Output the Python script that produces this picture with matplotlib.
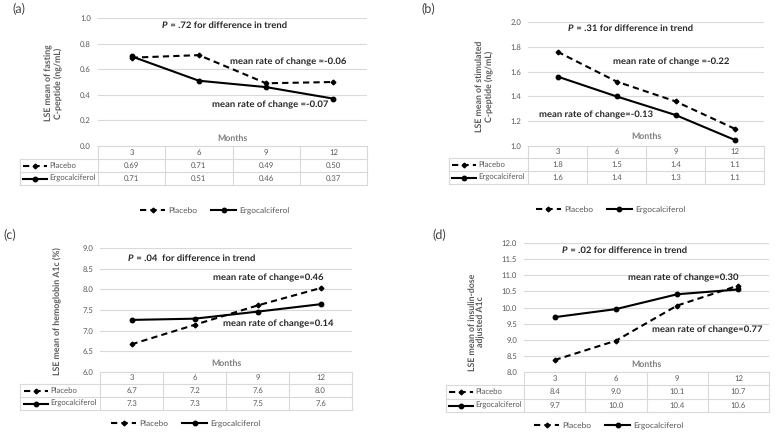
import matplotlib
matplotlib.use('Agg')
import matplotlib.pyplot as plt
from matplotlib.lines import Line2D
from matplotlib.transforms import Affine2D
import numpy as np

plt.rcParams['font.family'] = ['Lato', 'DejaVu Sans']
plt.rcParams['text.hinting'] = 'no_hinting'

W, H = 782, 432
fig = plt.figure(figsize=(W / 100, H / 100), dpi=100)
PIX = Affine2D().scale(1 / W, -1 / H).translate(0, 1) + fig.transFigure

# ---------------- data ----------------
months = ['3', '6', '9', '12']
groups = ['Placebo', 'Ergocalciferol']

a_placebo = [0.69, 0.71, 0.49, 0.50]
a_ergo = [0.70, 0.51, 0.46, 0.37]
a_placebo_tbl = ['0.69', '0.71', '0.49', '0.50']
a_ergo_tbl = ['0.71', '0.51', '0.46', '0.37']

b_placebo = [1.76, 1.52, 1.36, 1.14]
b_ergo = [1.56, 1.40, 1.25, 1.05]
b_placebo_tbl = ['1.8', '1.5', '1.4', '1.1']
b_ergo_tbl = ['1.6', '1.4', '1.3', '1.1']

c_placebo = [6.67, 7.14, 7.61, 8.03]
c_ergo = [7.26, 7.29, 7.46, 7.64]
c_placebo_tbl = ['6.7', '7.2', '7.6', '8.0']
c_ergo_tbl = ['7.3', '7.3', '7.5', '7.6']

d_placebo = [8.37, 8.97, 10.06, 10.68]
d_ergo = [9.70, 9.95, 10.41, 10.56]
d_placebo_tbl = ['8.4', '9.0', '10.1', '10.7']
d_ergo_tbl = ['9.7', '10.0', '10.4', '10.6']

GRAY = '#d9d9d9'
TXT = '#595959'
DARK = '#262626'
SMALL = 5.6

panels = [
    dict(tag='(a)', tagpos=(12.5, 8), plot=(98, 18, 367, 146), ylim=(0.0, 1.0), step=0.2,
         placebo=a_placebo, ergo=a_ergo, ptbl=a_placebo_tbl, etbl=a_ergo_tbl,
         ylabel='LSE mean of fasting\nC-peptide (ng/mL)', ylpos=(53.5, 83),
         ptext=' = .72 for difference in trend', ppos=(162, 25),
         notes=[('mean rate of change =-0.06', 230, 62), ('mean rate of change =-0.07', 212, 105)],
         months_y=138, rows=[146, 159, 172, 185], tleft=20, key=(23, 47, 49),
         leg=(215, 211)),
    dict(tag='(b)', tagpos=(421, 8), plot=(528, 22, 764, 146), ylim=(1.0, 2.0), step=0.2,
         placebo=b_placebo, ergo=b_ergo, ptbl=b_placebo_tbl, etbl=b_ergo_tbl,
         ylabel='LSE mean of stimulated\nC-peptide (ng/mL)', ylpos=(484.5, 86),
         ptext=' = .31 for difference in trend', ppos=(568, 28),
         notes=[('mean rate of change =-0.22', 613, 62), ('mean rate of change=-0.13', 539, 115)],
         months_y=136, rows=[146, 158, 171, 184], tleft=449, key=(452, 476, 478),
         leg=(610.5, 210)),
    dict(tag='(c)', tagpos=(3, 234), plot=(100, 248, 352, 372), ylim=(6.0, 9.0), step=0.5,
         placebo=c_placebo, ergo=c_ergo, ptbl=c_placebo_tbl, etbl=c_ergo_tbl,
         ylabel='LSE mean of hemoglobin A1c (%)', ylpos=(57, 311),
         ptext=' = .04  for difference in trend', ppos=(128, 258),
         notes=[('mean rate of change=0.46', 213, 278), ('mean rate of change=0.14', 223, 324)],
         months_y=363, rows=[372, 384, 397, 410], tleft=20, key=(24, 48, 50),
         leg=(186, 424)),
    dict(tag='(d)', tagpos=(432, 234), plot=(524, 243, 769, 372), ylim=(8.0, 12.0), step=0.5,
         placebo=d_placebo, ergo=d_ergo, ptbl=d_placebo_tbl, etbl=d_ergo_tbl,
         ylabel='LSE mean of insulin-dose\nadjusted A1c', ylpos=(476.5, 322),
         ptext=' = .02 for difference in trend', ppos=(562, 250),
         notes=[('mean rate of change=0.30', 628, 278), ('mean rate of change=0.77', 652, 330)],
         months_y=364, rows=[372, 385, 399, 412], tleft=446, key=(449, 473, 475),
         leg=(609, 426)),
]

LW = 1.5
PL_STYLE = dict(color='black', lw=LW, ls=(0, (3, 2)), marker='D', ms=2.4)
ER_STYLE = dict(color='black', lw=LW, ls='-', marker='o', ms=3.2)


def hline(x0, x1, y):
    fig.add_artist(Line2D([x0, x1], [y, y], transform=PIX, color=GRAY, lw=0.8))


def vline(x, y0, y1):
    fig.add_artist(Line2D([x, x], [y0, y1], transform=PIX, color=GRAY, lw=0.8))


for p in panels:
    L, T, R, B = p['plot']
    ax = fig.add_axes([L / W, 1 - B / H, (R - L) / W, (B - T) / H])
    x = np.arange(len(months))
    ax.plot(x, p['placebo'], label=groups[0], **PL_STYLE)
    ax.plot(x, p['ergo'], label=groups[1], **ER_STYLE)
    ax.set_xlim(-0.5, len(months) - 0.5)
    y0, y1 = p['ylim']
    ax.set_ylim(y0, y1)
    ticks = np.round(np.arange(y0, y1 + 1e-9, p['step']), 2)
    ax.set_yticks(ticks)
    ax.set_yticklabels([f'{t:.1f}' for t in ticks])
    ax.set_xticks([])
    ax.yaxis.grid(True, color=GRAY, lw=0.8)
    ax.set_axisbelow(True)
    for s in ax.spines.values():
        s.set_visible(False)
    ax.tick_params(axis='y', length=0, labelsize=SMALL, labelcolor=TXT, pad=5)

    # panel tag
    fig.text(p['tagpos'][0] / W, 1 - p['tagpos'][1] / H, p['tag'], fontsize=9,
             color='#404040', ha='left', va='center')
    # y label
    fig.text(p['ylpos'][0] / W, 1 - p['ylpos'][1] / H, p['ylabel'], rotation=90,
             ha='center', va='center', multialignment='center', fontsize=6.3,
             fontweight='bold', color=TXT, linespacing=1.1)
    # P text: italic P followed by the rest
    pt = fig.text(p['ppos'][0] / W, 1 - p['ppos'][1] / H, 'P', fontsize=6.8,
                  fontweight='bold', fontstyle='italic', color=DARK,
                  ha='left', va='center')
    fig.add_artist(matplotlib.text.Annotation(
        p['ptext'], xy=(1, 0), xycoords=pt, ha='left', va='bottom',
        fontsize=6.8, fontweight='bold', color=DARK))
    for txt, nx, ny in p['notes']:
        fig.text(nx / W, 1 - ny / H, txt, fontsize=6.8, fontweight='bold',
                 color=DARK, ha='left', va='center')
    # Months label
    fig.text((L + R) / 2 / W, 1 - p['months_y'] / H, 'Months', fontsize=6.3,
             fontweight='bold', color='#7f7f7f', ha='center', va='center')

    # data table
    rows = p['rows']
    tl = p['tleft']
    colw = (R - L) / len(months)
    hline(L, R, rows[0])
    for r in rows[1:]:
        hline(tl, R, r)
    for i in range(len(months) + 1):
        vline(L + i * colw, rows[0], rows[3])
    vline(tl, rows[1], rows[3])
    for i, m in enumerate(months):
        cx = L + (i + 0.5) * colw
        fig.text(cx / W, 1 - (rows[0] + rows[1]) / 2 / H, m, fontsize=SMALL,
                 color=TXT, ha='center', va='center')
        fig.text(cx / W, 1 - (rows[1] + rows[2]) / 2 / H, p['ptbl'][i], fontsize=SMALL,
                 color=TXT, ha='center', va='center')
        fig.text(cx / W, 1 - (rows[2] + rows[3]) / 2 / H, p['etbl'][i], fontsize=SMALL,
                 color=TXT, ha='center', va='center')
    k0, k1, kt = p['key']
    for (style, name, r0, r1) in [(PL_STYLE, groups[0], rows[1], rows[2]),
                                  (ER_STYLE, groups[1], rows[2], rows[3])]:
        yc = (r0 + r1) / 2
        fig.add_artist(Line2D([k0, (k0 + k1) / 2, k1], [yc, yc, yc], transform=PIX,
                              markevery=[1], **style))
        fig.text(kt / W, 1 - yc / H, name, fontsize=SMALL, color=TXT, ha='left', va='center')

    # legend
    ax.legend(loc='center', bbox_to_anchor=(p['leg'][0] / W, 1 - p['leg'][1] / H),
              bbox_transform=fig.transFigure, ncol=2, frameon=False, fontsize=6,
              labelcolor=TXT, handlelength=3.0, handletextpad=0.4, columnspacing=1.6,
              borderpad=0, borderaxespad=0)

fig.savefig('out.png', dpi=100, facecolor='white')
